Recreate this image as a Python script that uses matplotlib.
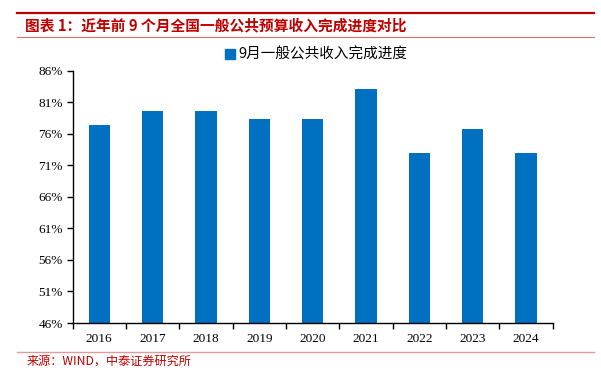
import matplotlib
matplotlib.use("Agg")
import matplotlib.pyplot as plt
from matplotlib.ticker import FixedLocator, FuncFormatter
from matplotlib.lines import Line2D

years = ["2016", "2017", "2018", "2019", "2020", "2021", "2022", "2023", "2024"]
progress = [77.3, 79.6, 79.6, 78.3, 78.3, 83.1, 72.9, 76.8, 72.9]
y_ticks = [46, 51, 56, 61, 66, 71, 76, 81, 86]
series_name = "9月一般公共收入完成进度"
title_text = "图表 1：近年前 9 个月全国一般公共预算收入完成进度对比"
source_text = "来源：WIND，中泰证券研究所"

CJK = ["Noto Sans CJK SC", "DejaVu Sans"]
SERIF = ["Liberation Serif", "DejaVu Serif"]
BLUE = "#0070C0"
RED = "#C00000"

W, H = 601, 386
fig = plt.figure(figsize=(W / 100, H / 100), dpi=100)
fig.patch.set_facecolor("white")

left, right, bottom, top = 72.5, 552.7, 323, 70.5
ax = fig.add_axes([left / W, 1 - bottom / H, (right - left) / W, (bottom - top) / H])

x = list(range(len(years)))
ax.bar(x, progress, width=0.4, color=BLUE, zorder=2, bottom=0)
ax.set_xlim(-0.5, len(years) - 0.5)
ax.set_ylim(46, 86)

ax.yaxis.set_major_locator(FixedLocator(y_ticks))
ax.yaxis.set_major_formatter(FuncFormatter(lambda v, p: f"{v:.0f}%"))
ax.set_xticks(x)
ax.set_xticklabels(years)
ax.set_xticks([i - 0.5 for i in range(len(years) + 1)], minor=True)
ax.tick_params(axis="x", which="major", length=0, pad=7)
ax.tick_params(axis="x", which="minor", length=4, width=1, direction="out")
ax.tick_params(axis="y", length=4, width=1, direction="out", pad=3)
for lab in ax.get_xticklabels():
    lab.set_fontfamily(SERIF)
    lab.set_fontsize(9.5)
for lab in ax.get_yticklabels():
    lab.set_fontfamily(SERIF)
    lab.set_fontsize(9.5)

for s in ["top", "right"]:
    ax.spines[s].set_visible(False)
ax.spines["left"].set_linewidth(1.0)
ax.spines["bottom"].set_linewidth(1.0)

# legend
handle = Line2D([], [], marker="s", linestyle="none", markersize=7,
                markerfacecolor=BLUE, markeredgecolor=BLUE)
fig.legend([handle], [series_name], loc="center", bbox_to_anchor=(316 / W, 1 - 55 / H),
           frameon=False, prop={"family": CJK, "size": 10.5},
           handlelength=0.8, handletextpad=0.2, borderpad=0)

# header and footer decorations
fig.add_artist(Line2D([17 / W, 594 / W], [1 - 12.5 / H, 1 - 12.5 / H], color=RED, linewidth=1.6))
fig.add_artist(Line2D([17 / W, 594 / W], [1 - 36.5 / H, 1 - 36.5 / H], color="#D87070", linewidth=0.8))
fig.add_artist(Line2D([17 / W, 594 / W], [1 - 352 / H, 1 - 352 / H], color="#E49A9A", linewidth=1.0))

fig.text(25 / W, 1 - 25 / H, title_text, color=RED, fontsize=10.6, fontweight="bold",
         family=CJK, ha="left", va="center")
fig.text(27 / W, 1 - 361 / H, source_text, color=RED, fontsize=8.7,
         family=CJK, ha="left", va="center")

fig.savefig("out.png", dpi=100, facecolor="white")
